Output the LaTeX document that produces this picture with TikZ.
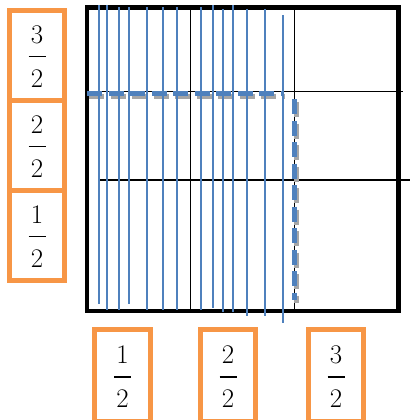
\documentclass[tikz,border=0pt]{standalone}
\usepackage{fontspec}
\usetikzlibrary{positioning}
\definecolor{boxorange}{RGB}{247,150,70}
\definecolor{stripblue}{RGB}{79,129,189}
\newcommand{\halfof}[1]{\begin{tabular}{@{}c@{}}\rule{0pt}{29.5bp}#1\\[-8bp]
  \rule[8bp]{17bp}{1.3bp}\\[-8bp]2\end{tabular}}

\begin{document}
\begin{tikzpicture}[x=1bp,y=-1bp,
    fracbox/.style={draw=boxorange,line width=5bp,minimum width=55bp,
      minimum height=90bp,inner sep=0pt,font=\fontsize{27}{30}\selectfont},
    gridline/.style={line width=1.6bp},
    strip/.style={stripblue,line width=1.6bp},
    cut/.style={stripblue,line width=5bp,dash pattern=on 15bp off 6.5bp},
    cutshadow/.style={black!35,line width=5bp,dash pattern=on 15bp off 6.5bp}]
  \useasboundingbox (0,0) rectangle (410,420);
  % left scale
  \node[fracbox] (l3) at (37,55) {\halfof{3}};
  \node[fracbox,below=-5bp of l3] (l2) {\halfof{2}};
  \node[fracbox,below=-5bp of l2] (l1) {\halfof{1}};
  % bottom scale
  \node[fracbox,minimum height=92bp] (b1) at (122.5,375.5) {\halfof{1}};
  \node[fracbox,minimum height=92bp,right=45.5bp of b1] (b2) {\halfof{2}};
  \node[fracbox,minimum height=92bp,right=48bp of b2] (b3) {\halfof{3}};
  % square and grid
  \draw[gridline] (190.5,7.5) -- (190.5,311);
  \draw[gridline] (294.5,7.5) -- (294.5,311);
  \draw[gridline] (87,91.5) -- (403,91.5);
  \draw[gridline] (100,180) -- (410,180);
  \draw[line width=4.5bp] (87,7.5) rectangle (398.5,311);
  % dashed cuts
  \draw[cutshadow] (89,96.5) -- (285,96.5);
  \draw[cutshadow] (296.5,102) -- (296.5,303);
  \draw[cut] (87,93.5) -- (283,93.5);
  \draw[cut] (294.5,99) -- (294.5,300);
  % strips
  \foreach \x/\a/\b in {99/5/304, 107/5/310, 119/7/310, 129/7/304,
      147/7/310, 163/7/310, 177/7/310, 201/7/310, 213/5/308, 223/9/312,
      233/5/312, 247/9/316, 265/9/316, 283/15/323}
    \draw[strip] (\x,\a) -- (\x,\b);
\end{tikzpicture}
\end{document}
